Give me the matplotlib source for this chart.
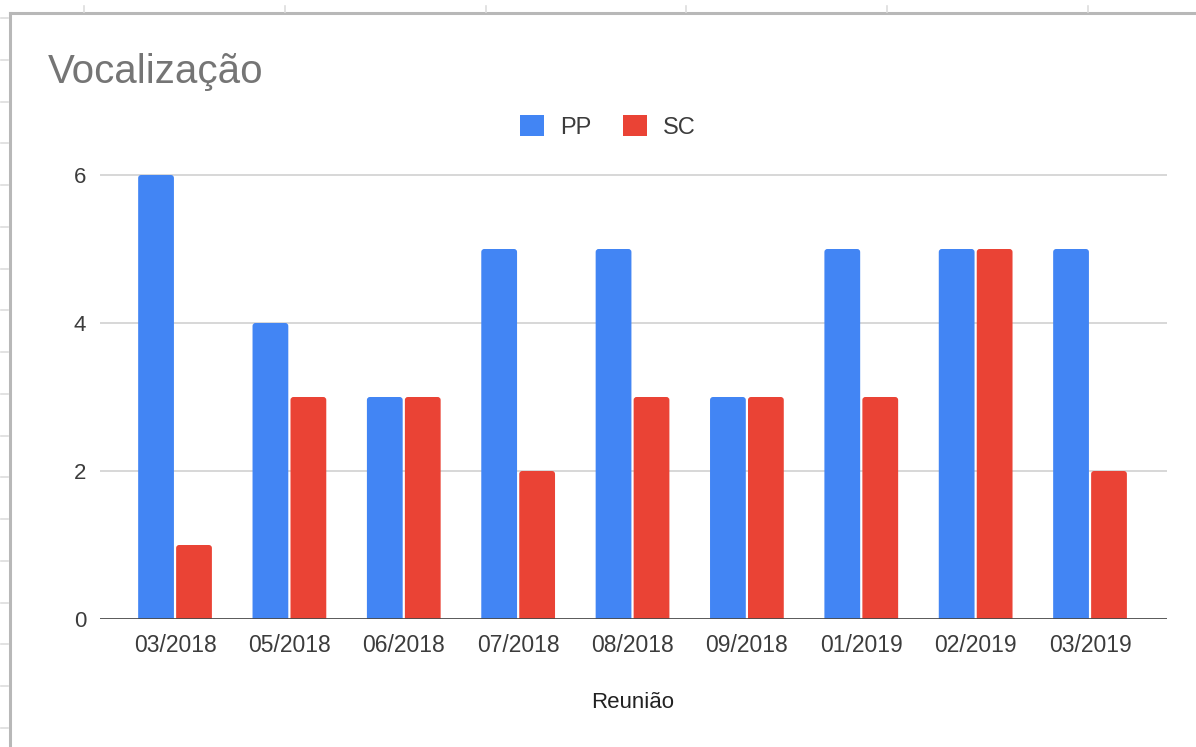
import matplotlib
matplotlib.use("Agg")
import matplotlib.pyplot as plt
from matplotlib.patches import FancyBboxPatch, Patch
from matplotlib.lines import Line2D

# Data
meetings = ["03/2018", "05/2018", "06/2018", "07/2018", "08/2018",
            "09/2018", "01/2019", "02/2019", "03/2019"]
pp_values = [6, 4, 3, 5, 5, 3, 5, 5, 5]
sc_values = [1, 3, 3, 2, 3, 3, 3, 5, 2]
series_names = ["PP", "SC"]
y_ticks = [0, 2, 4, 6]

BLUE = "#4285F4"
RED = "#EA4335"

plt.rcParams["font.family"] = ["Liberation Sans", "DejaVu Sans"]

W, H = 1196, 747
fig = plt.figure(figsize=(W / 100, H / 100), dpi=100)
fig.patch.set_facecolor("white")

# Plot area in pixel coordinates
px_left, px_right = 100, 1167
px_zero = 619
px_per_unit = 74.0
y_top = 6.3
px_top = px_zero - y_top * px_per_unit
ax = fig.add_axes([px_left / W, 1 - px_zero / H,
                   (px_right - px_left) / W, (px_zero - px_top) / H])

x_lo, x_hi = -0.656, 8.673
ax.set_xlim(x_lo, x_hi)
ax.set_ylim(0, y_top)

bar_w = 0.3128
offset = 0.166
px_per_x = (px_right - px_left) / (x_hi - x_lo)
radius_px = 3.0
r_x = radius_px / px_per_x
aspect = px_per_x / px_per_unit

for i, (p, s) in enumerate(zip(pp_values, sc_values)):
    for val, dx, col in ((p, -offset, BLUE), (s, offset, RED)):
        bottom = -0.1
        patch = FancyBboxPatch(
            (i + dx - bar_w / 2, bottom), bar_w, val - bottom,
            boxstyle=f"round,pad=0,rounding_size={r_x}",
            mutation_aspect=aspect,
            facecolor=col, edgecolor="none", zorder=3)
        ax.add_patch(patch)

# Gridlines
for t in y_ticks[1:]:
    ax.axhline(t, color="#d4d4d4", lw=1.3, zorder=1)
ax.axhline(0, color="#4a4a4a", lw=2.0, zorder=4)

for sp in ax.spines.values():
    sp.set_visible(False)

ax.set_xticks(range(len(meetings)))
ax.set_xticklabels(meetings, fontsize=16.5, color="#3c3c3c")
ax.set_yticks(y_ticks)
ax.set_yticklabels([str(t) for t in y_ticks], fontsize=16, color="#3c3c3c")
ax.tick_params(axis="both", length=0)
ax.tick_params(axis="x", pad=11)
ax.tick_params(axis="y", pad=10)

# Title and axis label
fig.text(48 / W, 1 - 83 / H, "Vocalização", fontsize=29, color="#757575",
         ha="left", va="baseline")
fig.text(633 / W, 1 - 703 / H, "Reunião", fontsize=16, color="#222222",
         ha="center", va="center")

# Legend
handles = [Patch(facecolor=BLUE, edgecolor="none"),
           Patch(facecolor=RED, edgecolor="none")]
fig.legend(handles, series_names, loc="center",
           bbox_to_anchor=(608 / W, 1 - 127 / H), ncol=2, frameon=False,
           fontsize=17, handlelength=1.0, handleheight=1.0,
           handletextpad=0.7, columnspacing=1.35, borderpad=0,
           labelcolor="#3c3c3c")

# Surrounding sheet frame and cell marks
frame_col = "#b8b8b8"
fig.add_artist(Line2D([10 / W, 1], [1 - 13 / H, 1 - 13 / H],
                      transform=fig.transFigure, color=frame_col, lw=2.2))
fig.add_artist(Line2D([10 / W, 10 / W], [1 - 13 / H, 0],
                      transform=fig.transFigure, color=frame_col, lw=2.2))
y_mark = 18.0
while y_mark < H:
    fig.add_artist(Line2D([1 / W, 8 / W], [1 - y_mark / H, 1 - y_mark / H],
                          transform=fig.transFigure, color="#dddddd", lw=1.2))
    y_mark += 41.75
x_mark = 84.0
while x_mark < W:
    fig.add_artist(Line2D([x_mark / W, x_mark / W], [1 - 6 / H, 1 - 12 / H],
                          transform=fig.transFigure, color="#dddddd", lw=1.2))
    x_mark += 200.8

fig.savefig("out.png", dpi=100, facecolor="white")
